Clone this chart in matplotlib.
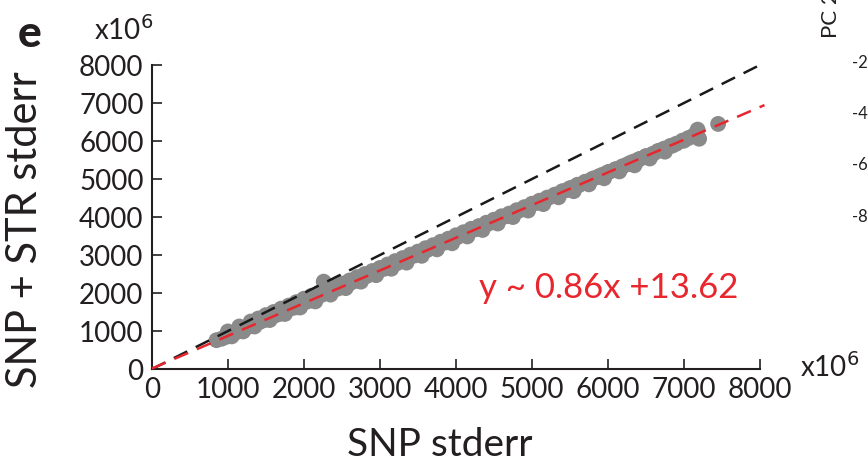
import numpy as np
import matplotlib.pyplot as plt

plt.rcParams['font.family'] = ['Lato', 'DejaVu Sans']

# SNP stderr vs SNP + STR stderr (x10^6)
snp = [850, 920, 980, 1040, 1100, 1160, 1220, 1280, 1350, 1420, 1480, 1550,
       1620, 1680, 1750, 1820, 1880, 1950, 2020, 2080, 2150, 2230, 2260, 2300,
       2380, 2450, 2520, 2600, 2680, 2750, 2830, 2900, 2980, 3060, 3140, 3220,
       3300, 3380, 3460, 3540, 3620, 3700, 3780, 3860, 3940, 4020, 4100, 4180,
       4260, 4340, 4420, 4500, 4580, 4660, 4740, 4820, 4900, 4980, 5060, 5140,
       5220, 5300, 5380, 5460, 5540, 5620, 5700, 5780, 5860, 5940, 6020, 6100,
       6180, 6260, 6340, 6420, 6500, 6580, 6660, 6740, 6820, 6900, 6980, 7060,
       7130, 7180, 7200, 7450,
       1000, 1150, 1300, 1400, 1500, 1600, 1700, 1800, 1900, 2000, 2100, 2200,
       2400, 2500, 2600, 2700, 2800, 2900, 3000, 3100, 3200, 3300, 3400, 3500,
       3600, 3700, 3800, 3900, 4000, 4100, 4200, 4300, 4400, 4500, 4600, 4700,
       4800, 4900, 5000, 5100, 5200, 5300, 5400, 5500, 5600, 5700, 5800, 5900,
       6000, 6100, 6200, 6300, 6400, 6500, 6600, 6700, 6850, 7000,
       1050, 1200, 1350, 1550, 1750, 1950, 2150, 2350, 2550, 2750, 2950, 3150,
       3350, 3550, 3750, 3950, 4150, 4350, 4550, 4750, 4950, 5150, 5350, 5550,
       5750, 5950, 6150, 6350, 6550, 6750]
snp_str = [760, 800, 850, 920, 960, 1020, 1060, 1120, 1170, 1240, 1290, 1340,
           1410, 1450, 1520, 1590, 1620, 1700, 1760, 1800, 1860, 1950, 2300, 2000,
           2060, 2120, 2180, 2250, 2320, 2380, 2450, 2510, 2570, 2640, 2710, 2780,
           2850, 2920, 2990, 3060, 3130, 3200, 3270, 3330, 3410, 3470, 3540, 3610,
           3680, 3750, 3820, 3880, 3960, 4020, 4090, 4160, 4230, 4300, 4370, 4430,
           4510, 4570, 4640, 4710, 4780, 4840, 4910, 4980, 5050, 5120, 5190, 5250,
           5320, 5390, 5460, 5530, 5600, 5650, 5740, 5800, 5870, 5930, 6010, 6080,
           6150, 6300, 6060, 6450,
           990, 1120, 1250, 1330, 1420, 1500, 1590, 1670, 1760, 1850, 1930, 2010,
           2180, 2250, 2330, 2420, 2500, 2580, 2660, 2750, 2840, 2920, 3010, 3090,
           3180, 3260, 3350, 3430, 3520, 3600, 3690, 3760, 3850, 3930, 4020, 4090,
           4180, 4260, 4350, 4430, 4510, 4590, 4680, 4760, 4850, 4930, 5010, 5090,
           5180, 5260, 5340, 5430, 5510, 5600, 5670, 5760, 5880, 6010,
           860, 990, 1120, 1290, 1450, 1620, 1780, 1960, 2130, 2300, 2470, 2640,
           2800, 2980, 3150, 3310, 3490, 3660, 3830, 4000, 4170, 4340, 4520, 4680,
           4860, 5020, 5200, 5360, 5540, 5720]

fit_slope = 0.86
fit_icpt = 13.62
ticks = [0, 1000, 2000, 3000, 4000, 5000, 6000, 7000, 8000]

fig = plt.figure(figsize=(8.68, 4.66), dpi=100)
ax = fig.add_axes([0.175, 0.208, 0.7005, 0.6525])

ax.scatter(snp, snp_str, s=130, color='#8a8a8a', edgecolors='none', zorder=2)

xl = np.array([0, 8000])
ax.plot(xl, xl, color='#1a1a1a', lw=1.8, dashes=(6, 3.8), zorder=3, clip_on=False)
xr = np.array([0, 8060])
ax.plot(xr, fit_slope * xr + fit_icpt, color='#e8262d', lw=1.8, dashes=(6, 3.8),
        zorder=4, clip_on=False)

ax.set_xlim(0, 8000)
ax.set_ylim(0, 8000)
ax.set_xticks(ticks)
ax.set_yticks(ticks)
ax.tick_params(direction='in', length=7, width=1.2, labelsize=20, pad=6,
               colors='#231f20')
for s in ['top', 'right']:
    ax.spines[s].set_visible(False)
for s in ['left', 'bottom']:
    ax.spines[s].set_linewidth(1.5)
    ax.spines[s].set_color('#231f20')

ax.set_xlabel('SNP stderr', fontsize=28, color='#231f20')
ax.xaxis.set_label_coords(0.474, -0.19)
ax.xaxis.label.set_va('top')
ax.set_ylabel('SNP + STR stderr', fontsize=30, color='#231f20')
ax.yaxis.set_label_coords(-0.178, 0.46)

ax.text(4300, 1880, 'y ~ 0.86x +13.62', color='#e8262d', fontsize=25)

fig.text(0.021, 0.9, 'e', fontsize=32, fontweight='black', color='#231f20')
fig.text(0.108, 0.915, 'x10$^6$', fontsize=20, color='#231f20')
fig.text(0.922, 0.19, 'x10$^6$', fontsize=20, color='#231f20')

# edge of the neighbouring panel
fig.text(0.946, 0.918, 'PC 2', fontsize=16, rotation=90, color='#231f20',
         va='bottom')
for lab, yy in zip(['-2', '-4', '-6', '-8'], [0.865, 0.755, 0.645, 0.535]):
    fig.text(0.982, yy, lab, fontsize=12, color='#231f20', va='center')

fig.savefig('out.png', dpi=100)
